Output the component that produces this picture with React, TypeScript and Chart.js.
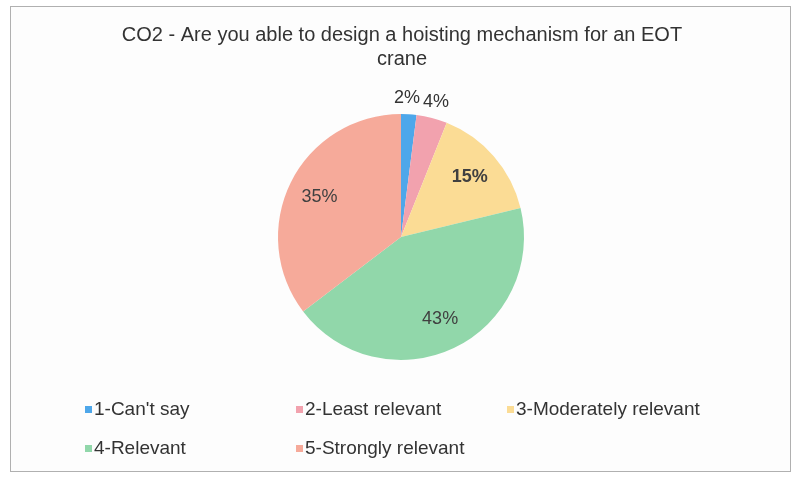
import React, { useEffect, useRef } from "react";
import { Chart, registerables } from "chart.js";

Chart.register(...registerables);

const TITLE_LINES = ["CO2 - Are you able to design a hoisting mechanism for an EOT", "crane"];
const CATEGORIES = ["1-Can't say", "2-Least relevant", "3-Moderately relevant", "4-Relevant", "5-Strongly relevant"];
const VALUES = [2, 4, 15, 43, 35];
const COLORS = ["#4ea7ea", "#f2a2ae", "#fbdc95", "#91d7aa", "#f6aa9a"];

const FONT = '"Liberation Sans", Arial, sans-serif';
const TEXT_COLOR = "#333333";

const framePlugin = {
  id: "frame",
  beforeDraw(chart: any) {
    const ctx = chart.ctx;
    ctx.save();
    ctx.fillStyle = "#ffffff";
    ctx.fillRect(0, 0, chart.width, chart.height);
    ctx.fillStyle = "#fdfdfd";
    ctx.fillRect(10, 6, 781, 466);
    ctx.strokeStyle = "#b0b0b0";
    ctx.lineWidth = 1;
    ctx.strokeRect(10.5, 6.5, 780, 465);
    ctx.restore();
  },
};

const titlePlugin = {
  id: "customTitle",
  afterDraw(chart: any) {
    const ctx = chart.ctx;
    ctx.save();
    ctx.fillStyle = TEXT_COLOR;
    ctx.font = `20px ${FONT}`;
    ctx.textAlign = "center";
    ctx.textBaseline = "alphabetic";
    const cx = 402;
    TITLE_LINES.forEach((line, i) => {
      ctx.fillText(line, cx, 41 + i * 24);
    });
    ctx.restore();
  },
};

const labelPlugin = {
  id: "sliceLabels",
  afterDatasetsDraw(chart: any) {
    const ctx = chart.ctx;
    const meta = chart.getDatasetMeta(0);
    const data = chart.data.datasets[0].data as number[];
    const total = data.reduce((a, b) => a + b, 0);
    ctx.save();
    ctx.font = `18px ${FONT}`;
    ctx.textBaseline = "middle";
    ctx.textAlign = "center";
    const items: any[] = [];
    meta.data.forEach((arc: any, i: number) => {
      const p = arc.getProps(["x", "y", "startAngle", "endAngle", "outerRadius"], true);
      const mid = (p.startAngle + p.endAngle) / 2;
      const frac = data[i] / total;
      const outside = frac < 0.08;
      const r = outside ? p.outerRadius + 16 : p.outerRadius * 0.74;
      const text = `${data[i]}%`;
      const w = ctx.measureText(text).width;
      items.push({ x: p.x + Math.cos(mid) * r, y: p.y + Math.sin(mid) * r, text, w, outside, bold: i === 2 });
    });
    // resolve overlaps between outside labels by pushing earlier ones left
    const outs = items.filter((it) => it.outside);
    for (let k = outs.length - 1; k > 0; k--) {
      const a = outs[k - 1];
      const b = outs[k];
      const overlap = a.x + a.w / 2 + 3 - (b.x - b.w / 2);
      if (overlap > 0 && Math.abs(a.y - b.y) < 18) a.x -= overlap;
    }
    items.forEach((it) => {
      ctx.font = `${it.bold ? "bold " : ""}18px ${FONT}`;
      ctx.fillStyle = it.outside ? "#333333" : "#404040";
      ctx.fillText(it.text, it.x, it.y);
    });
    ctx.restore();
  },
};

const legendPlugin = {
  id: "gridLegend",
  afterDraw(chart: any) {
    const ctx = chart.ctx;
    const colors = chart.data.datasets[0].backgroundColor as string[];
    const labels = chart.data.labels as string[];
    const left = 85;
    const colWidth = 211;
    const rowTop = 410;
    const rowGap = 39;
    const perRow = 3;
    ctx.save();
    ctx.font = `19px ${FONT}`;
    ctx.textBaseline = "middle";
    ctx.textAlign = "left";
    labels.forEach((lab, i) => {
      const col = i % perRow;
      const row = Math.floor(i / perRow);
      const x = left + col * colWidth;
      const y = rowTop + row * rowGap;
      ctx.fillStyle = colors[i];
      ctx.fillRect(x, y - 4, 7, 7);
      ctx.fillStyle = TEXT_COLOR;
      ctx.fillText(lab, x + 9, y);
    });
    ctx.restore();
  },
};

export default function App() {
  const ref = useRef<HTMLCanvasElement | null>(null);
  useEffect(() => {
    if (!ref.current) return;
    const chart = new Chart(ref.current, {
      type: "pie",
      data: {
        labels: CATEGORIES,
        datasets: [
          {
            data: VALUES,
            backgroundColor: COLORS,
            borderWidth: 0,
          },
        ],
      },
      options: {
        responsive: false,
        animation: false,
        devicePixelRatio: 1,
        layout: { padding: { left: 278, top: 114, right: 275, bottom: 118 } },
        plugins: {
          legend: { display: false },
          title: { display: false },
          tooltip: { enabled: false },
        },
      },
      plugins: [framePlugin, titlePlugin, labelPlugin, legendPlugin],
    });
    return () => chart.destroy();
  }, []);
  return (
    <div style={{ position: "fixed", left: 0, top: 0, width: 799, height: 478, background: "#fff" }}>
      <canvas ref={ref} width={799} height={478} style={{ display: "block" }} />
    </div>
  );
}
